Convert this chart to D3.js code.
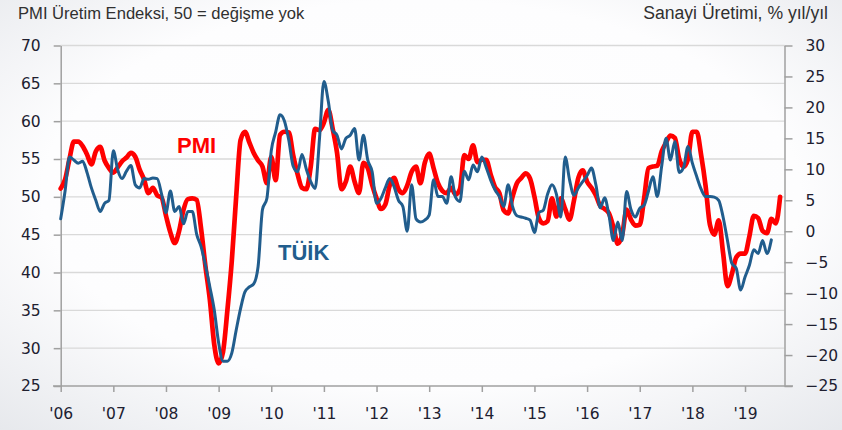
<!DOCTYPE html>
<html><head><meta charset="utf-8">
<script src="https://cdn.jsdelivr.net/npm/d3@7"></script>
<style>html,body{margin:0;padding:0;background:#fff;}svg{display:block;}</style>
</head><body>
<svg id="c" width="842" height="430"></svg>
<script>
// Monthly data, Jan 2006 (index 0) onward
const yearLabels = ["'06","'07","'08","'09","'10","'11","'12","'13","'14","'15","'16","'17","'18","'19"];
const leftTicks = [25,30,35,40,45,50,55,60,65,70];
const rightTicks = [-25,-20,-15,-10,-5,0,5,10,15,20,25,30];
const pmi = [
51.1,52.3,55.0,57.3,57.3,56.7,55.6,54.3,56.0,56.6,54.8,53.8,
53.2,53.9,54.7,55.2,55.8,55.3,53.6,52.3,50.5,51.2,50.2,49.9,
47.5,45.3,43.9,45.5,48.3,49.7,49.8,49.6,45.8,40.8,36.4,30.5,
28.0,29.5,35.0,41.5,50.0,57.5,58.6,57.2,55.8,54.8,54.0,51.8,
55.3,52.2,58.2,58.6,58.5,55.5,53.0,51.2,51.0,54.0,59.0,58.8,
59.8,61.5,59.0,55.8,51.0,52.0,54.0,52.0,50.5,54.5,53.8,51.6,
49.8,48.4,49.0,51.5,52.5,51.0,50.5,51.5,53.3,54.0,51.8,54.5,
55.7,53.8,51.8,50.8,50.5,51.2,50.3,51.0,55.5,55.0,56.8,54.6,
54.9,54.9,53.0,51.3,50.5,48.2,47.8,50.0,51.8,52.5,53.1,52.4,
50.0,47.2,46.5,46.8,49.8,47.4,49.8,48.4,47.0,49.5,52.5,53.5,
52.0,51.2,50.2,48.8,48.4,47.8,46.0,43.8,45.0,48.3,47.0,46.2,
46.3,49.8,53.8,54.0,54.1,56.0,57.2,58.1,57.8,55.0,54.0,55.0,
58.6,58.6,55.5,51.5,46.3,45.0,46.9,42.6,38.2,39.8,42.0,42.5,
42.5,44.8,47.5,47.2,45.5,45.2,47.1,46.5,50.0
];
const tuik = [
2.0,6.5,12.0,11.5,11.0,11.3,9.5,7.0,5.0,3.2,4.5,5.0,
13.0,9.9,8.5,9.7,10.6,7.5,7.0,8.5,8.4,8.6,8.5,6.0,
3.0,6.5,3.2,4.0,1.2,3.2,3.2,-0.5,-2.5,-5.5,-9.0,-12.7,
-18.0,-21.0,-21.0,-19.7,-16.0,-12.5,-9.8,-9.0,-8.5,-5.7,3.5,5.3,
13.0,16.0,18.8,17.8,14.7,10.5,9.6,12.4,10.0,8.0,6.9,15.0,
24.2,21.0,16.3,15.5,13.3,15.0,15.5,16.6,11.5,15.5,11.5,9.6,
4.5,5.3,7.0,8.5,7.2,5.0,4.0,0.0,7.5,2.0,1.5,1.8,
2.6,8.3,5.6,5.6,4.5,8.8,5.5,4.8,9.7,8.3,10.7,9.6,
12.0,10.3,8.3,6.7,5.6,4.0,7.5,4.0,2.5,2.3,2.1,1.8,
-0.2,3.0,3.4,6.0,7.5,6.0,2.3,12.0,8.3,5.8,7.0,8.0,
9.0,10.2,7.5,3.8,5.4,2.5,-1.5,1.5,-1.5,6.4,3.5,2.3,
3.7,4.2,6.5,8.8,5.6,10.5,15.0,11.5,14.5,9.5,10.3,13.7,
11.0,8.8,6.8,5.6,5.6,5.5,5.0,2.3,-1.5,-5.2,-6.0,-9.5,
-7.4,-5.5,-3.0,-3.6,-1.5,-3.6,-1.4
];
const titleLeft = "PMI Üretim Endeksi, 50 = değişme yok";
const titleRight = "Sanayi Üretimi, % yıl/yıl";

const svg = d3.select("#c");
const W = 842, H = 430;
const defs = svg.append("defs");
const rg = defs.append("radialGradient").attr("id","bg").attr("cx","50%").attr("cy","45%").attr("r","75%");
rg.append("stop").attr("offset","0%").attr("stop-color","#ffffff");
rg.append("stop").attr("offset","60%").attr("stop-color","#fdfdfe");
rg.append("stop").attr("offset","100%").attr("stop-color","#e6e8ec");
svg.append("rect").attr("width",W).attr("height",H).attr("fill","url(#bg)");

const x = d3.scaleLinear().domain([0,165]).range([60.7,784.5]);
const yL = d3.scaleLinear().domain([25,70]).range([386,45.5]);
const yR = d3.scaleLinear().domain([-25,30]).range([386,45.5]);

const axisColor = "#a0a0a0";
const labelFont = "'DejaVu Sans', Verdana, sans-serif";

// gridlines
svg.append("g").selectAll("line").data(leftTicks.slice(1)).join("line")
  .attr("x1",x(0)).attr("x2",x(165)).attr("y1",d=>yL(d)).attr("y2",d=>yL(d))
  .attr("stroke","#d9d9d9").attr("stroke-width",1.3);

// bottom axis line
svg.append("line").attr("x1",53).attr("x2",793).attr("y1",386).attr("y2",386)
  .attr("stroke",axisColor).attr("stroke-width",1.5);

function styleAxis(g){
  g.select(".domain").attr("stroke",axisColor).attr("stroke-width",1.5);
  g.selectAll(".tick line").attr("stroke",axisColor).attr("stroke-width",1.5);
  g.selectAll(".tick text").attr("fill","#202030").style("font-family",labelFont).style("font-size","15.5px");
}

const gl = svg.append("g").attr("transform",`translate(${x(0)},0)`)
  .call(d3.axisLeft(yL).tickValues(leftTicks).tickSize(7).tickSizeOuter(0).tickPadding(13));
styleAxis(gl);

const gr = svg.append("g").attr("transform",`translate(${x(165)},0)`)
  .call(d3.axisRight(yR).tickValues(rightTicks).tickSize(8).tickSizeOuter(0).tickPadding(13));
styleAxis(gr);

const gb = svg.append("g").attr("transform","translate(0,386)")
  .call(d3.axisBottom(x).tickValues(yearLabels.map((d,i)=>i*12)).tickFormat((d,i)=>yearLabels[i]).tickSize(6).tickSizeOuter(0).tickPadding(16));
styleAxis(gb);
gb.select(".domain").remove();

// lines
const linePmi = d3.line().x((d,i)=>x(i)).y(d=>yL(d)).curve(d3.curveMonotoneX);
const lineTuik = d3.line().x((d,i)=>x(i)).y(d=>yR(d)).curve(d3.curveMonotoneX);
svg.append("path").datum(pmi).attr("d",linePmi).attr("fill","none")
  .attr("stroke","#ff0000").attr("stroke-width",4.7).attr("stroke-linejoin","round").attr("stroke-linecap","round");
svg.append("path").datum(tuik).attr("d",lineTuik).attr("fill","none")
  .attr("stroke","#215d8d").attr("stroke-width",3).attr("stroke-linejoin","round").attr("stroke-linecap","round");

// series labels
svg.append("text").attr("x",177).attr("y",153).text("PMI")
  .attr("fill","#ff0000").style("font-family","'Liberation Sans', Arial, sans-serif").style("font-weight","bold").style("font-size","22px");
svg.append("text").attr("x",278).attr("y",260).text("TÜİK")
  .attr("fill","#215d8d").style("font-family","'Liberation Sans', Arial, sans-serif").style("font-weight","bold").style("font-size","22px");

// titles
svg.append("text").attr("x",18).attr("y",19).text(titleLeft)
  .attr("fill","#303030").style("font-family","'Liberation Sans', Arial, sans-serif").style("font-size","16.6px");
svg.append("text").attr("x",828).attr("y",19).attr("text-anchor","end").text(titleRight)
  .attr("fill","#303030").style("font-family","'Liberation Sans', Arial, sans-serif").style("font-size","17.6px");
</script>
</body></html>
